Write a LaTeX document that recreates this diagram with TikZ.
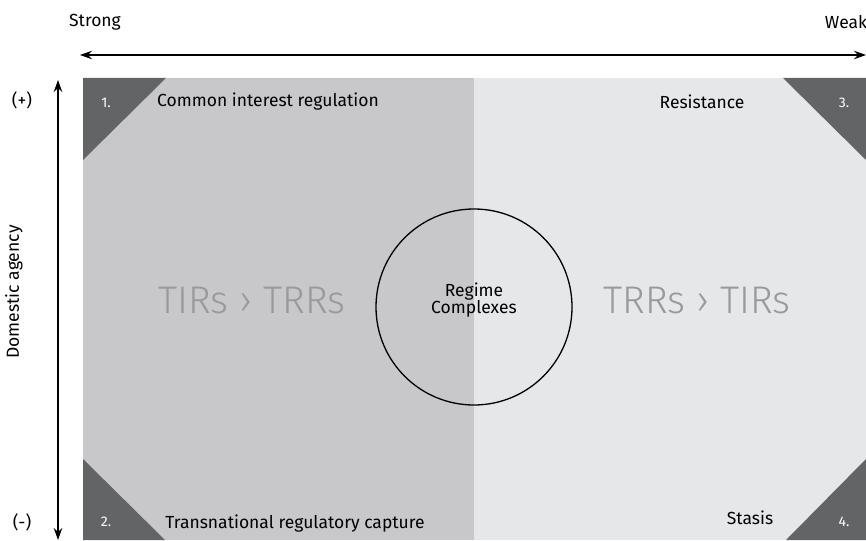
\documentclass[tikz,border=0pt]{standalone}
\usepackage{fontspec}
\setmainfont{Fira Sans}
\newfontfamily\firalight{Fira Sans Light}
\usetikzlibrary{arrows.meta}
\definecolor{darkq}{HTML}{C8C8CA}
\definecolor{lightq}{HTML}{E6E7E9}
\definecolor{corner}{HTML}{636466}
\definecolor{bigtext}{HTML}{97999C}
\begin{document}
\begin{tikzpicture}[x=1pt,y=-1pt,
  lbl/.style={font=\fontsize{17.5}{20}\selectfont, text=black, inner sep=0pt},
  num/.style={font=\fontsize{14}{16}\selectfont, text=white, inner sep=0pt},
  big/.style={font=\firalight\fontsize{38.5}{42}\selectfont, text=bigtext, inner sep=0pt, anchor=base},
  axis/.style={line width=1.3pt, {Stealth[length=12pt,width=8.5pt]}-{Stealth[length=12pt,width=8.5pt]}}]
\useasboundingbox (0,0) rectangle (866,540);
% quadrants
\fill[darkq] (83,78) rectangle (474,540);
\fill[lightq] (474,78) rectangle (866,540);
% corner triangles
\fill[corner] (83,78) -- (166,78) -- (83,160) -- cycle;
\fill[corner] (783,78) -- (866,78) -- (866,160) -- cycle;
\fill[corner] (83,459) -- (83,540) -- (165,540) -- cycle;
\fill[corner] (866,459) -- (866,540) -- (786,540) -- cycle;
% numbers
\node[num] (n1) at (106,103) {1.};
\node[num] (n3) at (844,103) {3.};
\node[num] (n2) at (106,522) {2.};
\node[num] (n4) at (844,522) {4.};
% quadrant labels
\node[lbl] (q1) at (268,102) {Common interest regulation};
\node[lbl] (q3) at (702,102) {Resistance};
\node[lbl] (q2) at (295,524) {Transnational regulatory capture};
\node[lbl] (q4) at (750,518) {Stasis};
% big texts
\node[big] (tl) at (252,313) {TIRs › TRRs};
\node[big] (tr) at (697,313) {TRRs › TIRs};
% circle
\node[draw=black, line width=1.3pt, circle, minimum size=196pt, inner sep=0pt] (rc) at (474,307) {};
\node[lbl, align=center] (rct) at (474,300) {Regime\\[-3pt]Complexes};
% axes
\coordinate (hl) at (80,55);
\coordinate (hr) at (866,55);
\draw[axis] (hl) -- (hr);
\coordinate (vt) at (58,80);
\coordinate (vb) at (58,540);
\draw[axis] (vt) -- (vb);
\node[lbl] (strong) at (95,22) {Strong};
\node[lbl] (weak) at (846,22) {Weak};
\node[lbl] (plus) at (22,100) {(+)};
\node[lbl] (minus) at (22,522) {(-)};
\node[lbl, rotate=90] (da) at (14,292) {Domestic agency};
\end{tikzpicture}
\end{document}
